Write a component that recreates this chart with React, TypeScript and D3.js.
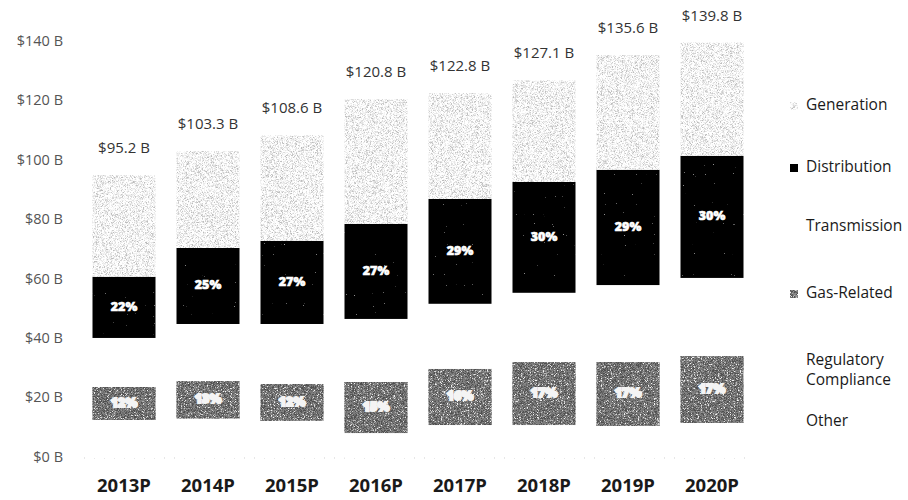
import React from 'react';
import * as d3 from 'd3';

const years = ['2013P', '2014P', '2015P', '2016P', '2017P', '2018P', '2019P', '2020P'];
const totals = [95.2, 103.3, 108.6, 120.8, 122.8, 127.1, 135.6, 139.8];
const other = [5.5, 6.0, 5.5, 3.5, 5.0, 5.0, 4.8, 5.3];
const regulatory = [7.3, 7.3, 7.0, 4.9, 6.1, 6.1, 6.0, 6.5];
const gasRelated = [11.1, 12.6, 12.4, 17.2, 18.9, 21.2, 21.5, 22.5];
const transmission = [16.5, 19.2, 20.2, 21.2, 21.9, 23.3, 25.9, 26.3];
const distribution = [20.6, 25.6, 28.0, 32.0, 35.3, 37.3, 38.8, 41.1];
const generation = [34.2, 32.6, 35.5, 42.0, 35.6, 34.2, 38.6, 38.1];
const distributionPct = ['22%', '25%', '27%', '27%', '29%', '30%', '29%', '30%'];
const gasPct = ['12%', '13%', '12%', '15%', '16%', '17%', '17%', '17%'];
const yTicks = [0, 20, 40, 60, 80, 100, 120, 140];

const keys = ['Other', 'Regulatory Compliance', 'Gas-Related', 'Transmission', 'Distribution', 'Generation'];
const legendItems = [
  { key: 'Generation', lines: ['Generation'], y: 106 },
  { key: 'Distribution', lines: ['Distribution'], y: 168 },
  { key: 'Transmission', lines: ['Transmission'], y: 227 },
  { key: 'Gas-Related', lines: ['Gas-Related'], y: 294 },
  { key: 'Regulatory Compliance', lines: ['Regulatory', 'Compliance'], y: 371 },
  { key: 'Other', lines: ['Other'], y: 422 },
];

const fills: Record<string, string> = {
  'Other': '#ffffff',
  'Regulatory Compliance': '#ffffff',
  'Gas-Related': '#808080',
  'Transmission': '#ffffff',
  'Distribution': '#060606',
  'Generation': '#ffffff',
};
const filters: Record<string, string | undefined> = {
  'Gas-Related': 'url(#gasTex)',
  'Generation': 'url(#genTex)',
  'Distribution': 'url(#distTex)',
};

export default function App() {
  const rows = years.map((y, i) => ({
    year: y,
    'Other': other[i],
    'Regulatory Compliance': regulatory[i],
    'Gas-Related': gasRelated[i],
    'Transmission': transmission[i],
    'Distribution': distribution[i],
    'Generation': generation[i],
  }));
  const stacked = d3.stack<any>().keys(keys)(rows);

  const x = d3.scaleBand<string>().domain(years).range([82, 754]).paddingInner(0.25).paddingOuter(0.125);
  const y = d3.scaleLinear().domain([0, 140]).range([458, 42]);
  const bw = x.bandwidth();
  const font = "'Open Sans', 'Liberation Sans', sans-serif";

  return (
    <svg width={908} height={500} style={{ position: 'absolute', left: 0, top: 0, background: '#fff' }} fontFamily={font}>
      <defs>
        <filter id="genTex" x="0" y="0" width="100%" height="100%">
          <feTurbulence type="fractalNoise" baseFrequency="1.8" numOctaves="2" seed="4" result="n" />
          <feColorMatrix in="n" type="matrix" values="0 0 0 0 0.5  0 0 0 0 0.5  0 0 0 0 0.5  3.2 0 0 0 -1.4" result="dots" />
          <feComposite in="dots" in2="SourceGraphic" operator="in" result="clip" />
          <feMerge><feMergeNode in="SourceGraphic" /><feMergeNode in="clip" /></feMerge>
        </filter>
        <filter id="gasTex" x="0" y="0" width="100%" height="100%">
          <feTurbulence type="fractalNoise" baseFrequency="1.3" numOctaves="2" seed="7" result="n" />
          <feColorMatrix in="n" type="matrix" values="0 0 0 0 0.08  0 0 0 0 0.08  0 0 0 0 0.08  6 0 0 0 -2.6" result="dark" />
          <feColorMatrix in="n" type="matrix" values="0 0 0 0 0.92  0 0 0 0 0.92  0 0 0 0 0.92  0 -6 0 0 2.4" result="light" />
          <feComposite in="dark" in2="SourceGraphic" operator="in" result="d2" />
          <feComposite in="light" in2="SourceGraphic" operator="in" result="l2" />
          <feMerge><feMergeNode in="SourceGraphic" /><feMergeNode in="d2" /><feMergeNode in="l2" /></feMerge>
        </filter>
        <filter id="distTex" x="0" y="0" width="100%" height="100%">
          <feTurbulence type="fractalNoise" baseFrequency="0.9" numOctaves="1" seed="11" result="n" />
          <feColorMatrix in="n" type="matrix" values="0 0 0 0 0.4  0 0 0 0 0.4  0 0 0 0 0.4  10 0 0 0 -7.6" result="dots" />
          <feComposite in="dots" in2="SourceGraphic" operator="in" result="clip" />
          <feMerge><feMergeNode in="SourceGraphic" /><feMergeNode in="clip" /></feMerge>
        </filter>
      </defs>

      {yTicks.map((t) => (
        <text key={t} x={63} y={y(t)} textAnchor="end" dominantBaseline="middle" fontSize={14.5} fill="#555">
          {`$${t} B`}
        </text>
      ))}

      <line x1={84} x2={752} y1={y(0)} y2={y(0)} stroke="#cfcfcf" strokeWidth={1} strokeDasharray="1 9" />

      {stacked.map((s) => (
        <g key={s.key}>
          {s.map((d, i) => (
            <rect
              key={i}
              x={x(years[i])}
              y={y(d[1])}
              width={bw}
              height={y(d[0]) - y(d[1])}
              fill={fills[s.key]}
              filter={filters[s.key]}
            />
          ))}
        </g>
      ))}

      {stacked
        .filter((s) => s.key === 'Distribution')
        .map((s) =>
          s.map((d, i) => (
            <text key={'dp' + i} x={(x(years[i]) as number) + bw / 2} y={(y(d[0]) + y(d[1])) / 2} textAnchor="middle" dominantBaseline="middle" fontSize={12.5} fontWeight={800} fill="#fff" stroke="#fff" strokeWidth={0.6}>
              {distributionPct[i]}
            </text>
          ))
        )}
      {stacked
        .filter((s) => s.key === 'Gas-Related')
        .map((s) =>
          s.map((d, i) => (
            <text key={'gp' + i} x={(x(years[i]) as number) + bw / 2} y={(y(d[0]) + y(d[1])) / 2} textAnchor="middle" dominantBaseline="middle" fontSize={12.5} fontWeight={800} fill="#f4f4f4" stroke="#f4f4f4" strokeWidth={2}>
              {gasPct[i]}
            </text>
          ))
        )}

      {totals.map((t, i) => (
        <text key={'t' + i} x={(x(years[i]) as number) + bw / 2} y={y(t) - 26} textAnchor="middle" dominantBaseline="middle" fontSize={15} fill="#333">
          {`$${t.toFixed(1)} B`}
        </text>
      ))}

      {years.map((yr) => (
        <text key={yr} x={(x(yr) as number) + bw / 2} y={487} textAnchor="middle" dominantBaseline="middle" fontSize={18.5} fontWeight={700} fill="#1a1a1a">
          {yr}
        </text>
      ))}

      {legendItems.map((it) => (
        <g key={it.key}>
          <rect x={790} y={it.y - 4} width={8} height={8} fill={fills[it.key]} filter={filters[it.key]} />
          {it.lines.map((ln, j) => (
            <text key={j} x={806} y={it.y + (j - (it.lines.length - 1) / 2) * 20} dominantBaseline="middle" fontSize={15.5} fill="#1a1a1a">
              {ln}
            </text>
          ))}
        </g>
      ))}
    </svg>
  );
}
